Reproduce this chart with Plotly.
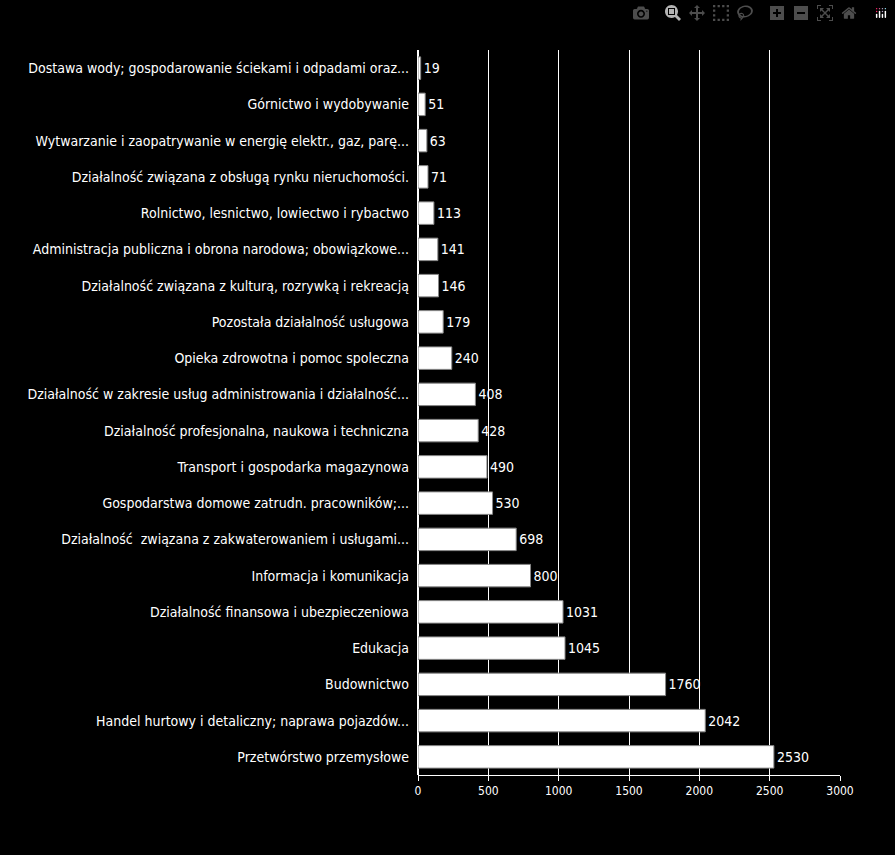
import plotly.graph_objects as go

sectors = [
    "Przetwórstwo przemysłowe",
    "Handel hurtowy i detaliczny; naprawa pojazdów...",
    "Budownictwo",
    "Edukacja",
    "Działalność finansowa i ubezpieczeniowa",
    "Informacja i komunikacja",
    "Działalność  związana z zakwaterowaniem i usługami...",
    "Gospodarstwa domowe zatrudn. pracowników;...",
    "Transport i gospodarka magazynowa",
    "Działalność profesjonalna, naukowa i techniczna",
    "Działalność w zakresie usług administrowania i działalność...",
    "Opieka zdrowotna i pomoc spoleczna",
    "Pozostała działalność usługowa",
    "Działalność związana z kulturą, rozrywką i rekreacją",
    "Administracja publiczna i obrona narodowa; obowiązkowe...",
    "Rolnictwo, lesnictwo, lowiectwo i rybactwo",
    "Działalność związana z obsługą rynku nieruchomości.",
    "Wytwarzanie i zaopatrywanie w energię elektr., gaz, parę...",
    "Górnictwo i wydobywanie",
    "Dostawa wody; gospodarowanie ściekami i odpadami oraz...",
]
counts = [2530, 2042, 1760, 1045, 1031, 800, 698, 530, 490, 428,
          408, 240, 179, 146, 141, 113, 71, 63, 51, 19]

font = "DejaVu Sans Condensed"

fig = go.Figure(go.Bar(
    x=counts, y=sectors, orientation="h",
    marker=dict(color="white", line=dict(color="#888888", width=1)),
    width=0.62,
    text=[str(v) for v in counts], textposition="outside",
    textfont=dict(color="white", size=14, family=font),
    cliponaxis=False,
))

fig.update_layout(
    width=895, height=855,
    paper_bgcolor="black", plot_bgcolor="black",
    margin=dict(l=418, r=55, t=50, b=80),
    showlegend=False,
    font=dict(family=font, color="white", size=14),
    xaxis=dict(range=[0, 3000], dtick=500, showgrid=True, gridcolor="white",
               gridwidth=1, zeroline=True, zerolinecolor="white",
               tickfont=dict(size=12, color="white"), showline=True,
               linecolor="white", ticks="outside", tickcolor="white"),
    yaxis=dict(tickfont=dict(size=14, color="white"), ticksuffix="  ",
               showline=False),
    bargap=0.3,
)

fig.write_html(
    "out.html",
    post_script="document.body.style.margin='0';document.body.style.backgroundColor='black';",
)
